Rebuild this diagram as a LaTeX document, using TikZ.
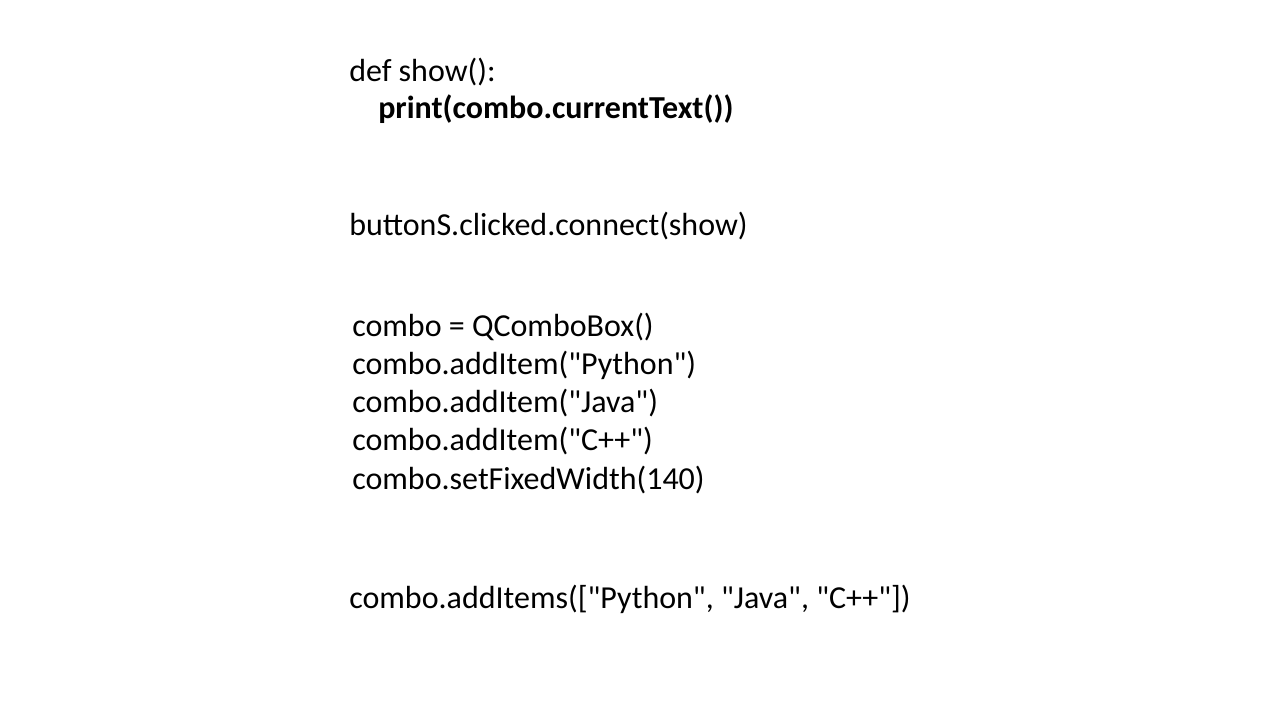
\documentclass[tikz,border=0pt]{standalone}
\usepackage{fontspec}
\setmainfont{Carlito}[Ligatures=TeXOff]
\usepackage{tikz}

\begin{document}
\begin{tikzpicture}[x=0.75pt,y=-0.75pt]
			%%%%% START %%%%%
			\def\xl{349}
			\def\xin{378}
			\def\xc{352}
			\def\dy{38.3}
			\def\fs{\fontsize{24}{29}\selectfont}
			
			\useasboundingbox[fill=white] (0,0) rectangle (1280,720);
			
			\node[anchor=base west,inner sep=0pt] (defshow) at (\xl,82) {\fs def show():};
			\node[anchor=base west,inner sep=0pt] (print) at (\xin,119) {\fs\bfseries print(combo.currentText())};
			
			\node[anchor=base west,inner sep=0pt] (connect) at (\xl,236) {\fs buttonS.clicked.connect(show)};
			
			\node[anchor=base west,inner sep=0pt] (combo) at (\xc,336) {\fs combo = QComboBox()};
			\node[anchor=base west,inner sep=0pt] (python) at (\xc,336+\dy) {\fs combo.addItem("Python")};
			\node[anchor=base west,inner sep=0pt] (java) at (\xc,336+2*\dy) {\fs combo.addItem("Java")};
			\node[anchor=base west,inner sep=0pt] (cpp) at (\xc,336+3*\dy) {\fs combo.addItem("C++")};
			\node[anchor=base west,inner sep=0pt] (width) at (\xc,336+4*\dy) {\fs combo.setFixedWidth(140)};
			
			\node[anchor=base west,inner sep=0pt] (items) at (\xl,608) {\fs combo.addItems(["Python", "Java", "C++"])};
			%%%%% END %%%%%
\end{tikzpicture}
\end{document}
